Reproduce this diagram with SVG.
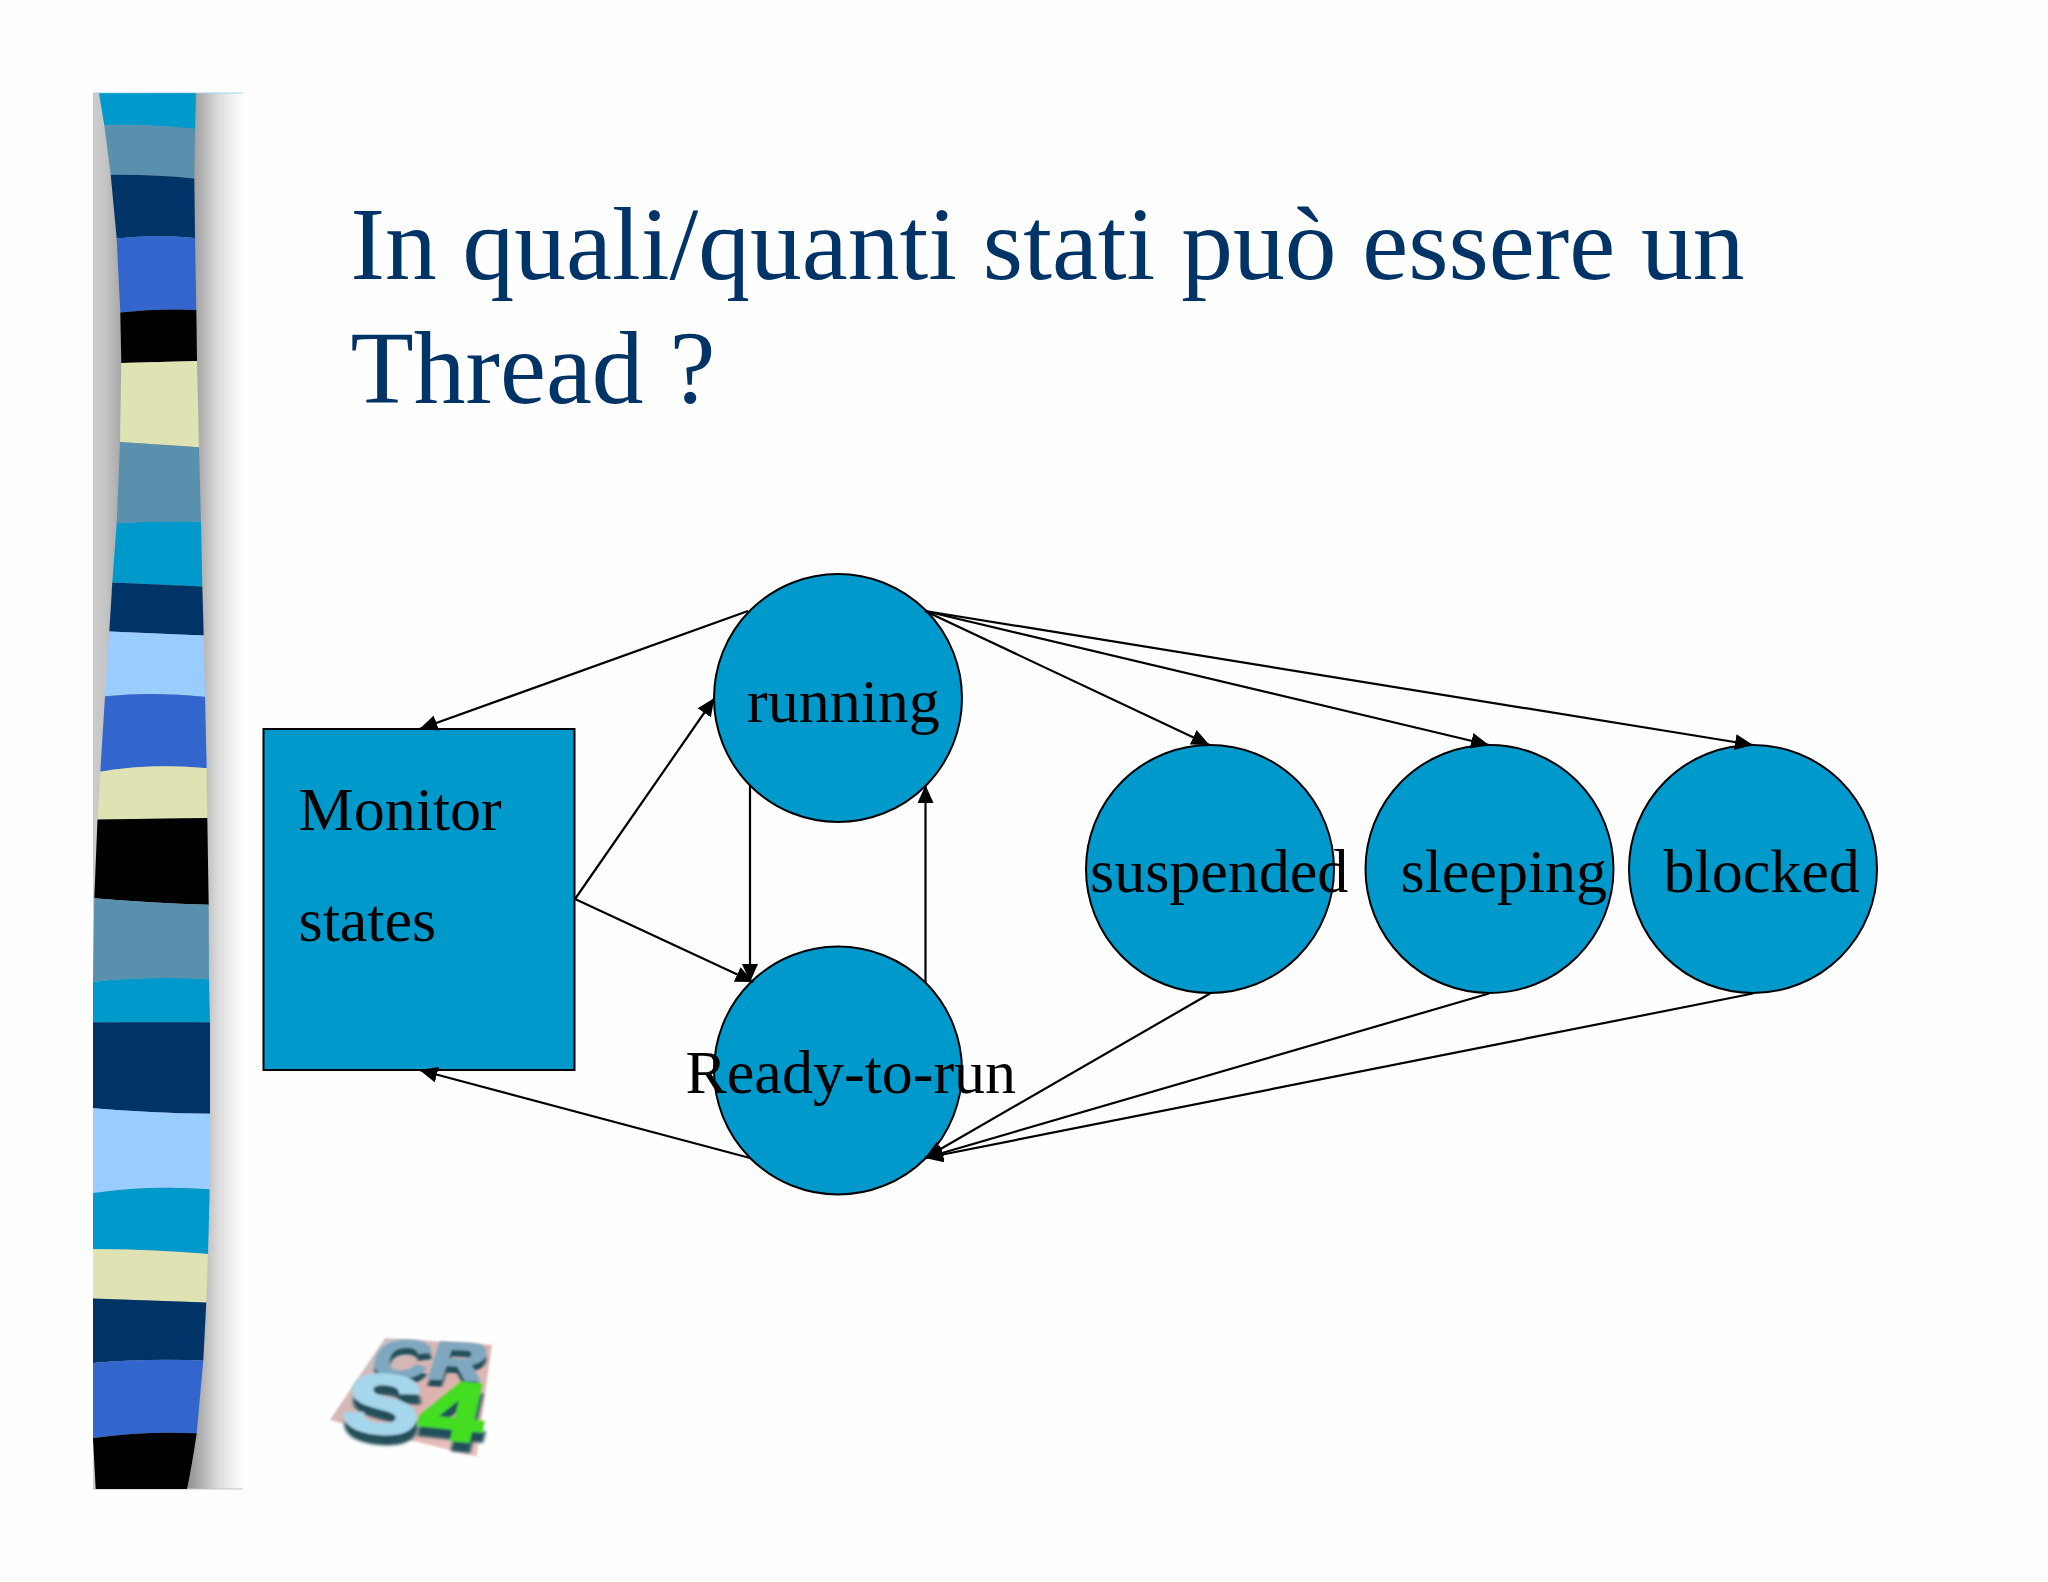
<svg xmlns="http://www.w3.org/2000/svg" width="2048" height="1582" viewBox="0 0 2048 1582">
<style>
.page{fill:#fefefe}
.title{font-family:"Liberation Serif","Times New Roman",serif;font-size:103.5px;fill:#003366}
.label{font-family:"Liberation Serif","Times New Roman",serif;font-size:62px;fill:#000}
.node{fill:#0099cc;stroke:#000;stroke-width:2}
.edge{stroke:#000;stroke-width:2.2;fill:none;marker-end:url(#head)}
.a{fill:#0099cc}.b{fill:#5990ad}.c{fill:#003366}.d{fill:#3366cc}.e{fill:#000}.f{fill:#dfe2b3}.g{fill:#99ccff}
.logo{font-family:"Liberation Sans",Arial,sans-serif;font-weight:700;font-size:40px;stroke-width:1.6;paint-order:stroke}
</style>
<defs>
<marker id="head" markerUnits="userSpaceOnUse" markerWidth="19" markerHeight="17" refX="18" refY="8" orient="auto"><path d="M0,0L18,8L0,16Z" fill="#000"/></marker>
<linearGradient id="shade" gradientUnits="userSpaceOnUse" x1="93" y1="0" x2="243" y2="0">
<stop offset="0" stop-color="#cbcbcb"/><stop offset=".08" stop-color="#c6c6c6"/><stop offset=".2" stop-color="#a4a4a4"/><stop offset=".62" stop-color="#8e8e8e"/><stop offset=".72" stop-color="#b0b0b0"/><stop offset=".84" stop-color="#dedede"/><stop offset="1" stop-color="#fefefe"/>
</linearGradient>
<linearGradient id="sheet" x1="0" y1="0" x2="1" y2="1"><stop offset="0" stop-color="#c2c8cb"/><stop offset=".5" stop-color="#dcb0ac"/><stop offset="1" stop-color="#eec9c4"/></linearGradient>
<filter id="soft" x="-10%" y="-10%" width="120%" height="120%"><feGaussianBlur stdDeviation=".8"/></filter>
<filter id="extrude" x="-20%" y="-20%" width="140%" height="150%"><feGaussianBlur in="SourceAlpha" stdDeviation=".5" result="s"/><feOffset in="s" dx="1" dy="5" result="o"/><feFlood flood-color="#24505a"/><feComposite in2="o" operator="in" result="k"/><feMerge><feMergeNode in="k"/><feMergeNode in="SourceGraphic"/></feMerge></filter>
</defs>
<rect class="page" width="2048" height="1582"/>
<g id="sidebar">
<rect x="93" y="93" width="150" height="1396" fill="url(#shade)"/>
<path d="M93 93H243" stroke="#9fd6ea" stroke-width="1.2" fill="none"/>
<path d="M93 1489H243" stroke="#c4c4c4" stroke-width="1.2" fill="none"/>
<path class="a" d="M99 93.2L196 93.2L195 128.9Q150 124 104.3 125.3Z"/>
<path class="b" d="M104.3 125.3Q150 124 195 128.9L194.3 178.4Q150 174 110.7 174.8Z"/>
<path class="c" d="M110.7 174.8Q150 174 194.3 178.4L195 238Q155 233.7 116.7 238.6Z"/>
<path class="d" d="M116.7 238.6Q155 233.7 195 238L196.3 310Q158 308 120.3 312.6Z"/>
<path class="e" d="M120.3 312.6Q158 308 196.3 310L197 361L121.3 363Z"/>
<path class="f" d="M121.3 363L197 361L199 447.2L120 442Z"/>
<path class="b" d="M120 442L199 447.2L201 522.2Q160 520.5 116.7 523.3Z"/>
<path class="a" d="M116.7 523.3Q160 520.5 201 522.2L202.3 586.5L112.3 582.4Z"/>
<path class="c" d="M112.3 582.4L202.3 586.5L203.7 635.5L109.3 631.4Z"/>
<path class="g" d="M109.3 631.4L203.7 635.5L205 696.7Q155 691.5 105 696.2Z"/>
<path class="d" d="M105 696.2Q155 691.5 205 696.7L206.7 768.2Q153 763 100.3 771.7Z"/>
<path class="f" d="M100.3 771.7Q153 763 206.7 768.2L207.3 818L97.5 819.5Z"/>
<path class="e" d="M97.5 819.5L207.3 818L208.7 904.8Q150 903 94.3 898.2Z"/>
<path class="b" d="M94.3 898.2Q150 903 208.7 904.8L209 979.3Q150 976 93 981.7Z"/>
<path class="a" d="M93 981.7Q150 976 209 979.3L210 1022.3L93 1022.3Z"/>
<path class="c" d="M93 1022.3L210 1022.3L210 1113.8Q150 1113 93 1108.2Z"/>
<path class="g" d="M93 1108.2Q150 1113 210 1113.8L209.7 1189.3Q150 1185 93 1193Z"/>
<path class="a" d="M93 1193Q150 1185 209.7 1189.3L208 1254Q150 1249 93 1249.3Z"/>
<path class="f" d="M93 1249.3Q150 1249 208 1254L206.3 1302.6L93 1298.4Z"/>
<path class="c" d="M93 1298.4L206.3 1302.6L203.3 1360.6Q150 1358 93 1363Z"/>
<path class="d" d="M93 1363Q150 1358 203.3 1360.6L196.7 1433.3Q145 1431 93 1438Z"/>
<path class="e" d="M93 1438Q145 1431 196.7 1433.3Q192 1465 187 1489L95.7 1489Z"/>
</g>
<g id="title">
<text class="title" x="350.5" y="279">In quali/quanti stati può essere un</text>
<text class="title" x="350.5" y="402.5">Thread ?</text>
</g>
<g id="logo">
<path d="M385 1338L491.7 1345L476.7 1456.7L330 1420Z" fill="url(#sheet)" filter="url(#soft)"/>
<g filter="url(#soft)"><text class="logo" transform="matrix(1.95 .08 -.42 1.3 368 1376)" fill="#7fa8c0" stroke="#7fa8c0" filter="url(#extrude)">CR</text>
<text class="logo" transform="matrix(2.85 .3 -.45 2.05 339 1428)" fill="#a6d6ec" stroke="#a6d6ec" filter="url(#extrude)">S<tspan fill="#44dd22" stroke="#44dd22">4</tspan></text></g>
</g>
<g id="node-monitor">
<rect class="node" x="263.5" y="729" width="311" height="341"/>
<text class="label" x="298.5" y="829.5">Monitor</text>
<text class="label" x="298.5" y="940.5">states</text>
</g>
<g id="node-running">
<circle class="node" cx="838" cy="698" r="124"/>
<text class="label" x="747" y="722">running</text>
</g>
<g id="node-ready">
<circle class="node" cx="838" cy="1070.5" r="124"/>
<text class="label" x="685.5" y="1093">Ready-to-run</text>
</g>
<g id="node-suspended">
<circle class="node" cx="1210" cy="869" r="124"/>
<text class="label" x="1090" y="892">suspended</text>
</g>
<g id="node-sleeping">
<circle class="node" cx="1489.5" cy="869" r="124"/>
<text class="label" x="1400.5" y="892">sleeping</text>
</g>
<g id="node-blocked">
<circle class="node" cx="1753" cy="869" r="124"/>
<text class="label" x="1663.5" y="892">blocked</text>
</g>
<g id="connectors">
<path class="edge" d="M748 611L419.5 729"/>
<path class="edge" d="M575 899L714.5 698"/>
<path class="edge" d="M575 899L753.5 982"/>
<path class="edge" d="M750 786V982"/>
<path class="edge" d="M925.5 982V785"/>
<path class="edge" d="M750 1158L419.5 1070"/>
<path class="edge" d="M925 611L1209.5 745"/>
<path class="edge" d="M925 611L1489 745"/>
<path class="edge" d="M925 611L1753 745"/>
<path class="edge" d="M1210 993.5L925 1158"/>
<path class="edge" d="M1489 993.5L925 1158"/>
<path class="edge" d="M1753 993.5L925 1158"/>
</g>
</svg>
